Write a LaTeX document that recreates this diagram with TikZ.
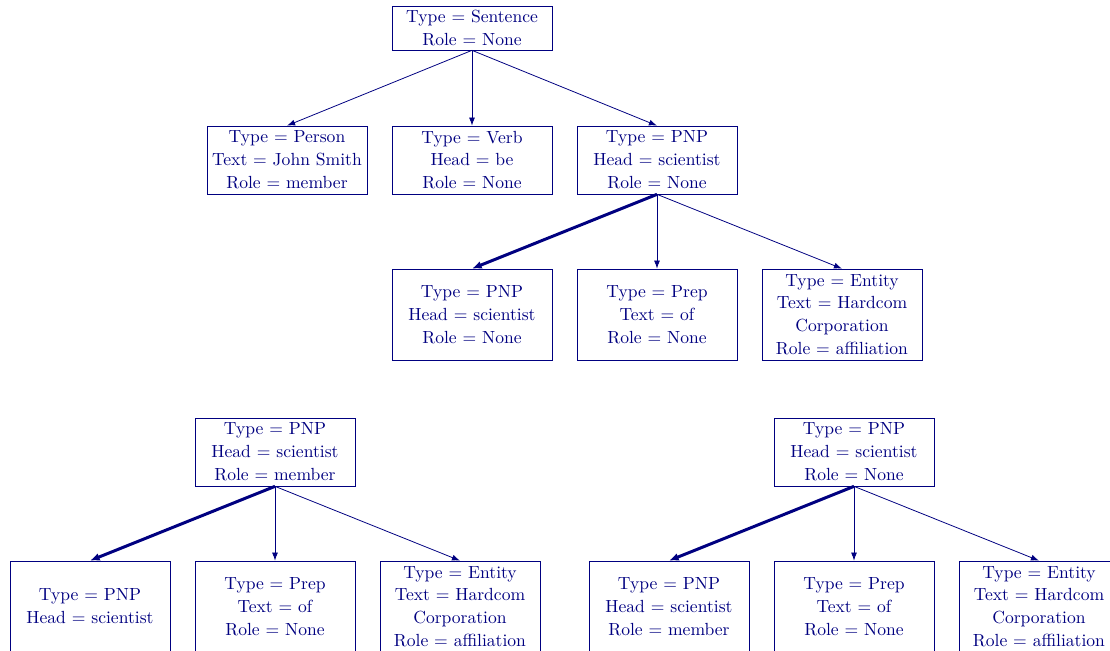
\documentclass[tikz,border=0pt]{standalone}
\usepackage{tikz}
\usepackage{xcolor}
\usetikzlibrary{arrows.meta, positioning}
\definecolor{treeblue}{RGB}{0,0,128}
\tikzstyle{box} = [draw=treeblue, text=treeblue, line width=0.4pt, align=center, inner sep=0pt, minimum width=3.2cm, font=\fontsize{10}{13}\selectfont]
\tikzstyle{arrow} = [-{Latex[length=4.6pt,width=3.4pt]}, draw=treeblue, line width=0.45pt]
\tikzstyle{headarrow} = [-{Latex[length=5.5pt,width=4.5pt]}, draw=treeblue, line width=1.7pt]

\begin{document}
\begin{tikzpicture}[x=0.02cm, y=-0.02cm]
    \useasboundingbox (0,0) rectangle (1110,651);

    % Sentence tree
    \node[box, minimum height=0.88cm] (sent) at (472, 28) {Type = Sentence\\Role = None};

    \node[box, minimum height=1.36cm] (person) at (287, 160) {Type = Person\\Text = John Smith\\Role = member};
    \node[box, minimum height=1.36cm] (verb) at (472, 160) {Type = Verb\\Head = be\\Role = None};
    \node[box, minimum height=1.36cm] (pnp) at (657, 160) {Type = PNP\\Head = scientist\\Role = None};

    \node[box, minimum height=1.82cm] (pnpb) at (472, 314.5) {Type = PNP\\Head = scientist\\Role = None};
    \node[box, minimum height=1.82cm] (prep) at (657, 314.5) {Type = Prep\\Text = of\\Role = None};
    \node[box, minimum height=1.82cm] (entity) at (842, 314.5) {Type = Entity\\Text = Hardcom\\Corporation\\Role = affiliation};

    \foreach \n in {person, verb, pnp} {
        \draw[arrow] (sent.south) -- (\n.north);
    }
    \draw[headarrow] (pnp.south) -- (pnpb.north);
    \draw[arrow] (pnp.south) -- (prep.north);
    \draw[arrow] (pnp.south) -- (entity.north);

    % Left tree
    \node[box, minimum height=1.36cm] (lpnp) at (275, 452) {Type = PNP\\Head = scientist\\Role = member};

    \node[box, minimum height=1.82cm] (lpnpb) at (90, 606.5) {Type = PNP\\Head = scientist};
    \node[box, minimum height=1.82cm] (lprep) at (275, 606.5) {Type = Prep\\Text = of\\Role = None};
    \node[box, minimum height=1.82cm] (lentity) at (460, 606.5) {Type = Entity\\Text = Hardcom\\Corporation\\Role = affiliation};

    \draw[headarrow] (lpnp.south) -- (lpnpb.north);
    \draw[arrow] (lpnp.south) -- (lprep.north);
    \draw[arrow] (lpnp.south) -- (lentity.north);

    % Right tree
    \node[box, minimum height=1.36cm] (rpnp) at (854, 452) {Type = PNP\\Head = scientist\\Role = None};

    \node[box, minimum height=1.82cm] (rpnpb) at (669, 606.5) {Type = PNP\\Head = scientist\\Role = member};
    \node[box, minimum height=1.82cm] (rprep) at (854, 606.5) {Type = Prep\\Text = of\\Role = None};
    \node[box, minimum height=1.82cm] (rentity) at (1039, 606.5) {Type = Entity\\Text = Hardcom\\Corporation\\Role = affiliation};

    \draw[headarrow] (rpnp.south) -- (rpnpb.north);
    \draw[arrow] (rpnp.south) -- (rprep.north);
    \draw[arrow] (rpnp.south) -- (rentity.north);

\end{tikzpicture}
\end{document}
